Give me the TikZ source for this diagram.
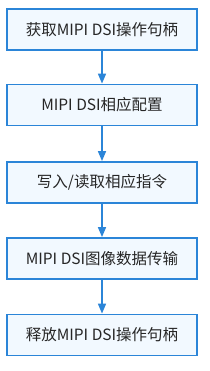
\documentclass[tikz,border=0pt]{standalone}
\usepackage{fontspec}
\setmainfont{Noto Sans CJK SC}
\usetikzlibrary{arrows.meta}
\definecolor{boxblue}{HTML}{2B85D8}
\definecolor{boxfill}{HTML}{F2F9FF}
\tikzset{
  stepbox/.style={draw=boxblue, fill=boxfill, line width=1.8pt, minimum width=190pt, minimum height=41pt, inner sep=0pt, font=\fontsize{15.5pt}{18pt}\selectfont, text=black!85},
  flowarrow/.style={draw=boxblue, line width=1.5pt, -{Triangle[length=10pt,width=8pt]}}
}
\begin{document}
\begin{tikzpicture}[x=1pt,y=1pt]
\useasboundingbox[fill=white] (0,0) rectangle (209,-371);
\node[stepbox] (a) at (102,-29.5) {获取MIPI DSI操作句柄};
\node[stepbox] (b) at (102,-105) {MIPI DSI相应配置};
\node[stepbox] (c) at (102,-182.5) {写入/读取相应指令};
\node[stepbox] (d) at (102,-258.5) {MIPI DSI图像数据传输};
\node[stepbox] (e) at (102,-335) {释放MIPI DSI操作句柄};
\draw[flowarrow] (a) -- (b);
\draw[flowarrow] (b) -- (c);
\draw[flowarrow] (c) -- (d);
\draw[flowarrow] (d) -- (e);
\end{tikzpicture}
\end{document}
